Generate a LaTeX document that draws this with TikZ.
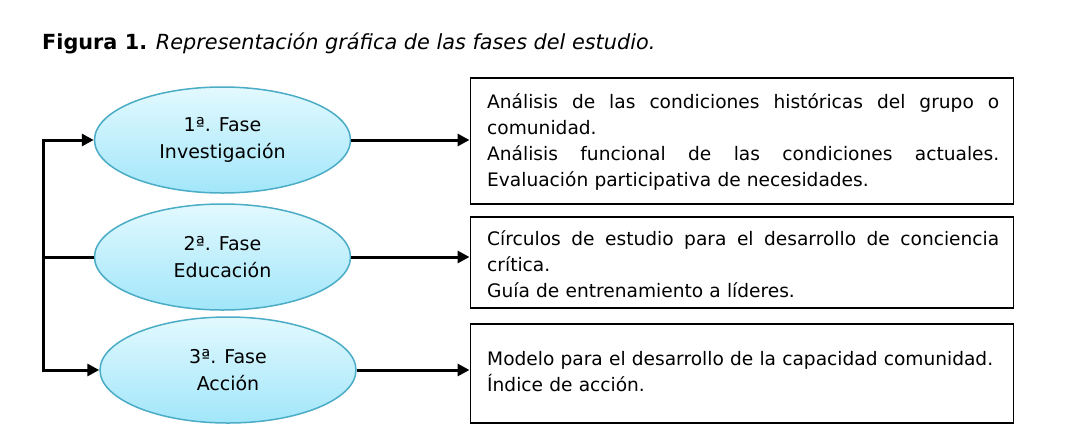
\documentclass[tikz,border=0pt]{standalone}
\usepackage{fontspec}
\setmainfont{DejaVu Sans}
\usepackage{xcolor}
\definecolor{white}{RGB}{255,255,255}
\definecolor{edgeblue}{HTML}{4BACC6}
\definecolor{toplight}{HTML}{E2F9FE}
\definecolor{bottomcyan}{HTML}{A2E6FA}
\usetikzlibrary{positioning,arrows.meta,shapes.geometric}

\newcommand{\jline}[1]{\leavevmode\hbox to 512pt{\spaceskip=0.3em plus 1fill\relax #1}}

\begin{document}
\begin{tikzpicture}[x=1pt, y=-1pt,
    phase/.style={
        ellipse, minimum width = 256pt, minimum height = 106pt, line width = 1.5pt,
        draw = edgeblue, top color = toplight, bottom color = bottomcyan,
        align = center, font = \fontsize{19}{27.5}\selectfont},
    result/.style={
        rectangle, minimum width = 543pt, line width = 1.5pt, draw = black,
        fill = white, inner sep = 0pt},
    restext/.style={
        text width = 512pt, align = left, inner sep = 0pt,
        font = \fontsize{18.6}{26.3}\selectfont},
    link/.style={line width = 3pt, -{Triangle[length=12pt, width=12pt]}},
    plain/.style={line width = 3pt}]
    \useasboundingbox (0,0) rectangle (1070,437);
    % caption
    \node (cap) [anchor=base west, inner sep=0pt, font=\fontsize{20.8}{24}\selectfont]
        at (42,49) {\textbf{Figura 1.} \textit{Representación gráfica de las fases del estudio.}};
    % phases
    \node (F1) [phase] at (222.5,140) {1ª. Fase\\Investigación};
    \node (F2) [phase] at (222.5,257) {2ª. Fase\\Educación};
    \node (F3) [phase] at (228,370) {3ª. Fase\\Acción};
    % results
    \node (R1) [result, minimum height = 126pt, anchor=north west] at (469.5,77) {};
    \node (R2) [result, minimum height = 91pt, anchor=north west] at (469.5,216) {};
    \node (R3) [result, minimum height = 99pt, anchor=north west] at (469.5,323) {};
    \node (T1) [restext, anchor=base west] at (487,108) {%
        \jline{Análisis de las condiciones históricas del grupo o}\\
        comunidad.\\
        \jline{Análisis funcional de las condiciones actuales.}\\
        Evaluación participativa de necesidades.};
    \begin{scope}
        \clip (R2.north west) rectangle ([yshift=8pt]R2.south east);
        \node (T2) [restext, anchor=base west] at (487,245) {%
            \jline{Círculos de estudio para el desarrollo de conciencia}\\
            crítica.\\
            Guía de entrenamiento a líderes.};
    \end{scope}
    \node (T3) [restext, anchor=base west] at (487,365) {%
        Modelo para el desarrollo de la capacidad comunidad.\\
        Índice de acción.};
    % branch on the left
    \coordinate (up) at (43.5,140);
    \coordinate (down) at (43.5,370);
    \draw [plain] ([yshift=1.5pt]up) -- ([yshift=-1.5pt]down);
    \draw [link] ([xshift=-1.5pt]up) -- (F1.west);
    \draw [plain] (F2.west) -- (F2.west -| up);
    \draw [link] ([xshift=-1.5pt]down) -- (F3.west);
    % phases to results
    \draw [link] (F1.east) -- (F1.east -| R1.west);
    \draw [link] (F2.east) -- (F2.east -| R2.west);
    \draw [link] (F3.east) -- (F3.east -| R3.west);
\end{tikzpicture}
\end{document}
